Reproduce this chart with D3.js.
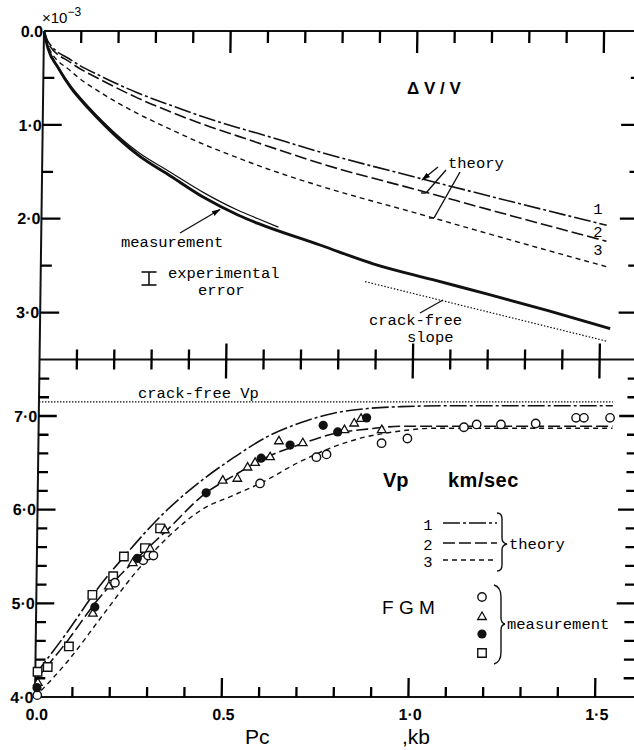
<!DOCTYPE html>
<html><head><meta charset="utf-8">
<script src="https://cdn.jsdelivr.net/npm/d3@7"></script>
<style>
body{margin:0;background:#fff}
svg{display:block}
.mono{font-family:"Liberation Mono","Courier New",monospace;font-size:15.5px;fill:#000}
.sans{font-family:"Liberation Sans",Arial,Helvetica,sans-serif;fill:#000}
</style></head><body>
<svg id="c" width="634" height="750"></svg>
<script>
// ---------- DATA ----------
// Top panel: ΔV/V (x10^-3) vs Pc (kb)
const measPc  = [0,0.011,0.039,0.075,0.121,0.165,0.256,0.346,0.437,0.526,0.58,0.747,0.89,1.05,1.195,1.36,1.527];
const measDV  = [0,0.18,0.39,0.61,0.82,1.0,1.32,1.55,1.78,1.96,2.05,2.28,2.48,2.65,2.80,2.98,3.17];
const meas2Pc = [0,0.011,0.039,0.075,0.121,0.165,0.256,0.346,0.437,0.526,0.58,0.635];
const meas2DV = [0,0.17,0.38,0.59,0.80,0.98,1.29,1.51,1.73,1.91,2.00,2.09];
const thPc    = [0,0.011,0.074,0.164,0.254,0.344,0.433,0.523,0.576,0.744,1.012,1.26,1.514];
const th1DV   = [0,0.11,0.31,0.50,0.66,0.795,0.92,1.03,1.09,1.29,1.57,1.82,2.07];
const th2DV   = [0,0.13,0.34,0.54,0.715,0.865,1.0,1.12,1.19,1.41,1.70,1.97,2.24];
const th3DV   = [0,0.16,0.43,0.68,0.88,1.05,1.21,1.35,1.43,1.65,1.95,2.23,2.51];
const cfSlopePc = [0.869,1.518];
const cfSlopeDV = [2.67,3.305];

// Bottom panel: Vp (km/sec) vs Pc (kb)
const vp1Pc = [0,0.087,0.157,0.24,0.335,0.435,0.525,0.613,0.703,0.79,0.88,0.97,1.1,1.537];
const vp1   = [4.24,4.71,5.12,5.53,5.95,6.30,6.56,6.78,6.93,7.03,7.08,7.10,7.11,7.11];
const vp2Pc = [0,0.087,0.157,0.263,0.342,0.451,0.523,0.612,0.703,0.79,0.88,0.97,1.1,1.537];
const vp2   = [4.18,4.61,5.0,5.46,5.76,6.18,6.36,6.56,6.70,6.81,6.86,6.89,6.89,6.89];
const vp3Pc = [0,0.088,0.176,0.263,0.351,0.44,0.528,0.595,0.70,0.79,0.88,0.97,1.06,1.2,1.537];
const vp3   = [4.0,4.39,4.86,5.32,5.71,6.0,6.16,6.28,6.51,6.67,6.78,6.84,6.87,6.87,6.87];
const crackFreeVp = 7.15;
const crackFreePc = [0,1.537];

const circPc = [0.006,0.210,0.285,0.298,0.312,0.595,0.745,0.772,0.919,0.988,1.139,1.173,1.238,1.331,1.439,1.460,1.530];
const circVp = [4.02,5.22,5.46,5.51,5.51,6.28,6.56,6.59,6.71,6.76,6.88,6.91,6.91,6.92,6.98,6.98,6.98];
const triPc  = [0.007,0.152,0.194,0.257,0.303,0.342,0.495,0.534,0.561,0.581,0.621,0.644,0.708,0.819,0.845,0.863,0.919];
const triVp  = [4.15,4.89,5.18,5.43,5.58,5.78,6.31,6.33,6.45,6.50,6.56,6.73,6.71,6.85,6.92,6.97,6.85];
const dotPc  = [0.005,0.157,0.269,0.451,0.597,0.674,0.762,0.801,0.878];
const dotVp  = [4.10,4.96,5.48,6.18,6.55,6.69,6.90,6.83,6.98];
const sqPc   = [0.006,0.033,0.089,0.150,0.205,0.233,0.289,0.329];
const sqVp   = [4.27,4.32,4.54,5.09,5.29,5.50,5.59,5.80];

// Ticks
const xMajor = [0,0.5,1.0,1.5];
const xMajorTicks = [0.5,1.0,1.5];
const xLabels = ["0.0","0.5","1·0","1·5"];
const xMinor = [0.1,0.2,0.3,0.4,0.6,0.7,0.8,0.9,1.1,1.2,1.3,1.4];
const dvLabelVals = [0,1,2,3];
const dvLabels = ["0.0","1·0","2·0","3·0"];
const dvMajor = [1,2,3];
const dvMinor = [0.5,1.5,2.5];
const vpLabelVals = [4,5,6,7];
const vpLabels = ["4·0","5·0","6·0","7·0"];
const vpMajor = [5,6,7];
const vpMinor = [4.2,4.4,4.6,4.8,5.2,5.4,5.6,5.8,6.2,6.4,6.6,6.8,7.2,7.4];

// ---------- SCALES ----------
const x = d3.scaleLinear().domain([0,1.5]).range([39.5,599.6]);
const xEnd = 1.608;
const yT = d3.scaleLinear().domain([0,3.5]).range([31,359.5]);
const yB = d3.scaleLinear().domain([4,7.6]).range([697,359.8]);

const svg = d3.select("#c");
const defs = svg.append("defs");
defs.append("marker").attr("id","ah").attr("viewBox","0 0 10 6").attr("refX",9).attr("refY",3)
  .attr("markerWidth",9).attr("markerHeight",6).attr("markerUnits","userSpaceOnUse").attr("orient","auto")
  .append("path").attr("d","M0,0 L10,3 L0,6 Z").attr("fill","#000");

// slight shear of the scanned original
const k = 0.0135, ymid = 363;
const shear = `translate(${k*ymid},0) skewX(${-Math.atan(k)*180/Math.PI})`;
const g = svg.append("g").attr("transform",shear);

const ink = "#111";
const yMid = 359.5;

// frame lines
[31,yMid,697].forEach(yy=>{
  g.append("line").attr("x1",x(0)).attr("x2",x(xEnd)).attr("y1",yy).attr("y2",yy).attr("stroke",ink).attr("stroke-width",2);
});
g.append("line").attr("x1",x(0)).attr("x2",x(0)).attr("y1",31).attr("y2",697).attr("stroke",ink).attr("stroke-width",2);

// tick labels
g.selectAll(".dvl").data(dvLabelVals).enter().append("text").attr("class","sans")
  .attr("x",x(0)-1).attr("y",d=>yT(d)).attr("dy","0.36em").attr("text-anchor","end")
  .attr("font-size",16).attr("font-weight","bold").text((d,i)=>dvLabels[i]);
g.selectAll(".vpl").data(vpLabelVals).enter().append("text").attr("class","sans")
  .attr("x",x(0)-1.5).attr("y",d=>yB(d)).attr("dy","0.36em").attr("text-anchor","end")
  .attr("font-size",16).attr("font-weight","bold").text((d,i)=>vpLabels[i]);
g.selectAll(".xl").data(xMajor).enter().append("text").attr("class","sans")
  .attr("x",d=>x(d)+2).attr("y",714).attr("dy","0.36em").attr("text-anchor","middle")
  .attr("font-size",16).attr("font-weight","bold").text((d,i)=>xLabels[i]);

// ---------- CURVES ----------
const zip = (a,b)=>a.map((v,i)=>[v,b[i]]);
const lineT = d3.line().x(d=>x(d[0])).y(d=>yT(d[1])).curve(d3.curveMonotoneX);
const lineB = d3.line().x(d=>x(d[0])).y(d=>yB(d[1])).curve(d3.curveMonotoneX);
const dash1 = "17,3,3,3", dash2 = "12,4", dash3 = "5,4";

function drawCurve(gen,data,w,dash){
  const p = g.append("path").attr("d",gen(data)).attr("fill","none").attr("stroke",ink).attr("stroke-width",w);
  if(dash) p.attr("stroke-dasharray",dash);
  return p;
}
// top
drawCurve(lineT, zip(measPc,measDV), 2.9);
drawCurve(lineT, zip(meas2Pc,meas2DV), 1.2);
drawCurve(lineT, zip(thPc,th1DV), 1.6, dash1);
drawCurve(lineT, zip(thPc,th2DV), 1.6, dash2);
drawCurve(lineT, zip(thPc,th3DV), 1.4, dash3);
drawCurve(d3.line().x(d=>x(d[0])).y(d=>yT(d[1])), zip(cfSlopePc,cfSlopeDV), 1.2, "1.5,1.8");
// bottom
drawCurve(lineB, crackFreePc.map(p=>[p,crackFreeVp]), 1.2, "1.5,1.5");
drawCurve(lineB, zip(vp1Pc,vp1), 1.6, dash1);
drawCurve(lineB, zip(vp2Pc,vp2), 1.6, dash2);
drawCurve(lineB, zip(vp3Pc,vp3), 1.4, dash3);

// symbols
g.selectAll(".sq").data(zip(sqPc,sqVp)).enter().append("path")
  .attr("transform",d=>`translate(${x(d[0])},${yB(d[1])})`).attr("d",d3.symbol(d3.symbolSquare,72)())
  .attr("fill","#fff").attr("stroke",ink).attr("stroke-width",1.4);
g.selectAll(".ci").data(zip(circPc,circVp)).enter().append("circle")
  .attr("cx",d=>x(d[0])).attr("cy",d=>yB(d[1])).attr("r",4.2)
  .attr("fill","#fff").attr("stroke",ink).attr("stroke-width",1.4);
g.selectAll(".tr").data(zip(triPc,triVp)).enter().append("path")
  .attr("transform",d=>`translate(${x(d[0])},${yB(d[1])})`).attr("d",d3.symbol(d3.symbolTriangle,32)())
  .attr("fill","#fff").attr("stroke",ink).attr("stroke-width",1.3);
g.selectAll(".dt").data(zip(dotPc,dotVp)).enter().append("circle")
  .attr("cx",d=>x(d[0])).attr("cy",d=>yB(d[1])).attr("r",4.6).attr("fill",ink);

// ---------- ANNOTATIONS (unsheared) ----------
const A = svg.append("g");
function txt(cls,xx,yy,s,opts={}){
  const t = A.append("text").attr("class",cls).attr("x",xx).attr("y",yy).attr("dy","0.35em").text(s);
  Object.entries(opts).forEach(([a,v])=>t.attr(a,v));
  return t;
}
function seg(x1,y1,x2,y2,w=1.4,arrow=false){
  const l = A.append("line").attr("x1",x1).attr("y1",y1).attr("x2",x2).attr("y2",y2).attr("stroke",ink).attr("stroke-width",w);
  if(arrow) l.attr("marker-end","url(#ah)");
  return l;
}
// x10^-3
const ex = A.append("text").attr("class","sans").attr("x",42).attr("y",23).attr("font-size",15);
ex.append("tspan").text("×10");
ex.append("tspan").attr("font-size",12).attr("dy",-7).text("−3");

txt("sans",407,88,"Δ V / V",{"font-size":17,"font-weight":"bold"});
txt("mono",448,163,"theory");
seg(438,167,422,180,1.4,true);
seg(446,170,426,193,1.4); seg(426,193,421,193,1.4);
seg(460,172,434,218,1.4); seg(434,218,429,218,1.4);
txt("mono",598,209,"1",{"text-anchor":"middle","font-size":14});
txt("mono",598,232,"2",{"text-anchor":"middle","font-size":14});
txt("mono",598,250,"3",{"text-anchor":"middle","font-size":14});
txt("mono",121,242,"measurement");
seg(180,233,220,209.5,1.4,true);
// experimental error bar
seg(149,272,149,285,1.6); seg(141.5,272,156.5,272,1.6); seg(141.5,285,156.5,285,1.6);
txt("mono",168,273,"experimental");
txt("mono",198,290,"error");
txt("mono",369,320,"crack-free",{"font-size":15});
txt("mono",407,337,"slope",{"font-size":15});
seg(420,313,443,300,1.3);

// bottom panel text
txt("mono",138,393,"crack-free Vp");
txt("sans",383,480,"Vp",{"font-size":20,"font-weight":"bold"});
txt("sans",448,480,"km/sec",{"font-size":20,"font-weight":"bold","letter-spacing":"0.5px"});
// theory legend
const legY = [523,543,560], legDash=[dash1,dash2,dash3], legNum=["1","2","3"];
legY.forEach((yy,i)=>{
  A.append("line").attr("x1",443).attr("x2",497).attr("y1",yy).attr("y2",yy).attr("stroke",ink).attr("stroke-width",1.6).attr("stroke-dasharray",legDash[i]);
  txt("mono",428,yy+2,legNum[i],{"text-anchor":"middle","font-size":14});
});
A.append("path").attr("d","M497,513 Q502,513 502,519 L502,538 Q502,543 507,544 Q502,545 502,550 L502,565 Q502,571 497,571")
  .attr("fill","none").attr("stroke",ink).attr("stroke-width",1.4);
txt("mono",509,544,"theory");
txt("sans",382,607,"F G M",{"font-size":19});
// measurement legend
A.append("circle").attr("cx",482).attr("cy",597).attr("r",4.2).attr("fill","#fff").attr("stroke",ink).attr("stroke-width",1.4);
A.append("path").attr("transform","translate(482,617)").attr("d",d3.symbol(d3.symbolTriangle,32)()).attr("fill","#fff").attr("stroke",ink).attr("stroke-width",1.3);
A.append("circle").attr("cx",482).attr("cy",634).attr("r",4.6).attr("fill",ink);
A.append("path").attr("transform","translate(482,653)").attr("d",d3.symbol(d3.symbolSquare,72)()).attr("fill","#fff").attr("stroke",ink).attr("stroke-width",1.4);
A.append("path").attr("d","M494,585 Q501,587 501,597 L501,618 Q501,623 505,624 Q501,625 501,630 L501,652 Q501,662 494,664")
  .attr("fill","none").attr("stroke",ink).attr("stroke-width",1.4);
txt("mono",507,624,"measurement");

// axis titles
txt("sans",245,737,"Pc",{"font-size":21});
txt("sans",402,737,",kb",{"font-size":21});

// ---------- TICK MARKS (positioned through the scales) ----------
const tickLayer = svg.append("g").attr("class","ticks").attr("transform",shear);
function hTicks(vals, yy, up, down){
  tickLayer.append("path")
    .attr("d", vals.map(d=>`M${x(d)},${yy-up}V${yy+down}`).join(""))
    .attr("fill","none").attr("stroke","#000").attr("stroke-width",2.3);
}
function vTicks(vals, scale, xx, len){
  tickLayer.append("path")
    .attr("d", vals.map(d=>`M${xx},${scale(d)}H${xx+len}`).join(""))
    .attr("fill","none").attr("stroke","#000").attr("stroke-width",2.3);
}
hTicks(xMinor,31,0,12); hTicks(xMajorTicks,31,0,22);
hTicks(xMinor,yMid,10,10); hTicks(xMajorTicks,yMid,16,19);
hTicks(xMinor,697,10,0); hTicks(xMajorTicks,697,19,0);
vTicks(dvMinor,yT,x(0),11); vTicks(dvMajor,yT,x(0),19);
vTicks(vpMinor,yB,x(0),10); vTicks(vpMajor,yB,x(0),18);
vTicks(dvMinor,yT,x(xEnd),-13); vTicks(dvMajor,yT,x(xEnd),-22);
vTicks(vpMinor,yB,x(xEnd),-12); vTicks(vpMajor,yB,x(xEnd),-20);
</script></body></html>
